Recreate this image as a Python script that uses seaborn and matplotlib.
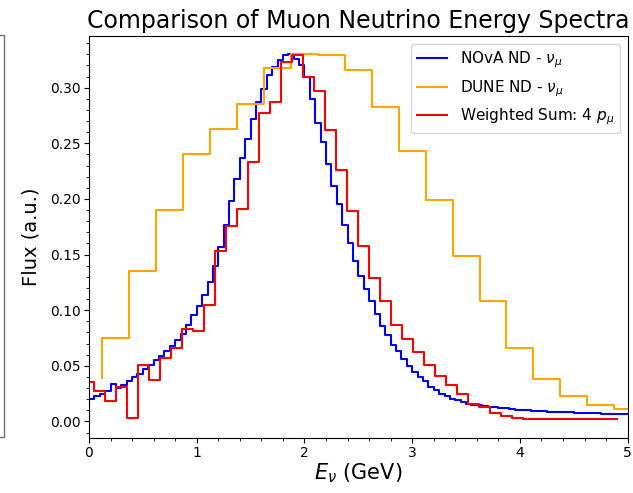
import numpy as np
import matplotlib
matplotlib.use("Agg")
import matplotlib.pyplot as plt
import seaborn as sns
from matplotlib.lines import Line2D

# NOvA ND numu flux, 0.05 GeV bins from 0 to 5 GeV
nova_edges = np.linspace(0, 5, 101)
nova_start = 0.0015
nova_flux = [
    0.020, 0.023, 0.025, 0.027, 0.034, 0.030, 0.033, 0.036, 0.040, 0.043,
    0.047, 0.051, 0.055, 0.059, 0.063, 0.068, 0.073, 0.079, 0.087, 0.096,
    0.104, 0.114, 0.125, 0.140, 0.157, 0.177, 0.198, 0.218, 0.237, 0.254,
    0.272, 0.287, 0.299, 0.311, 0.319, 0.325, 0.329, 0.330, 0.326, 0.320,
    0.310, 0.290, 0.268, 0.251, 0.231, 0.212, 0.195, 0.177, 0.160, 0.144,
    0.131, 0.119, 0.108, 0.097, 0.086, 0.078, 0.069, 0.063, 0.056, 0.050,
    0.044, 0.040, 0.036, 0.031, 0.028, 0.025, 0.0226, 0.0205, 0.019, 0.0171,
    0.0160, 0.0152, 0.0145, 0.0138, 0.0132, 0.0127, 0.0122, 0.0117, 0.0112, 0.0107,
    0.0103, 0.0100, 0.0097, 0.0094, 0.0092, 0.0089, 0.0087, 0.0085, 0.0083, 0.0081,
    0.0079, 0.0077, 0.0076, 0.0074, 0.0073, 0.0071, 0.0070, 0.0069, 0.0068, 0.0067,
]

# DUNE ND numu flux, 0.25 GeV bins (points at bin centres)
dune_energy = np.arange(0.125, 5.2, 0.25)
dune_flux = [
    0.039, 0.075, 0.135, 0.190, 0.240, 0.263, 0.285, 0.318, 0.330, 0.329,
    0.316, 0.283, 0.243, 0.199, 0.149, 0.108, 0.066, 0.038, 0.023, 0.0145,
    0.011,
]

# weighted sum of fluxes, 49 points on a 0.102 GeV grid
wsum_energy = np.linspace(0, 5, 50)[:-1]
wsum_flux = [
    0.035, 0.027, 0.018, 0.031, 0.003, 0.051, 0.037, 0.057, 0.066, 0.083,
    0.081, 0.105, 0.153, 0.176, 0.191, 0.233, 0.277, 0.287, 0.323, 0.329,
    0.310, 0.297, 0.262, 0.226, 0.189, 0.158, 0.129, 0.108, 0.087, 0.074,
    0.062, 0.051, 0.041, 0.033, 0.025, 0.016, 0.013, 0.008, 0.0045, 0.003,
    0.002, 0.002, 0.002, 0.002, 0.002, 0.002, 0.002, 0.002, 0.002,
]

fig = plt.figure(figsize=(6.33, 4.93), dpi=100)
ax = fig.add_axes([0.1406, 0.1115, 0.851, 0.8154])

sns.lineplot(x=nova_edges, y=[nova_start] + nova_flux, drawstyle="steps-pre",
             color="blue", lw=1.5, label=r"NOvA ND - $\nu_\mu$", ax=ax)
sns.lineplot(x=dune_energy, y=dune_flux, drawstyle="steps-pre",
             color="orange", lw=1.5, label=r"DUNE ND - $\nu_\mu$", ax=ax)
sns.lineplot(x=wsum_energy, y=wsum_flux, drawstyle="steps-mid",
             color="red", lw=1.5, label=r"Weighted Sum: 4 $p_\mu$", ax=ax)

ax.set_xlim(0, 5)
ax.minorticks_on()
ax.tick_params(axis="both", which="major", pad=2.5)
ax.set_xlabel(r"$E_\nu$ (GeV)", fontsize=15, labelpad=1)
ax.set_ylabel("Flux (a.u.)", fontsize=14, labelpad=7)
ax.set_title("Comparison of Muon Neutrino Energy Spectra", fontsize=17)
ax.legend(loc="upper right", fontsize=11)

# edge of the neighbouring panel, cut off on the left
fig.add_artist(Line2D([0, 3.5 / 633, 3.5 / 633, 0],
                      [1 - 35 / 493, 1 - 35 / 493, 1 - 437 / 493, 1 - 437 / 493],
                      transform=fig.transFigure, color="0.45", lw=1))

fig.savefig("out.png", dpi=100)
